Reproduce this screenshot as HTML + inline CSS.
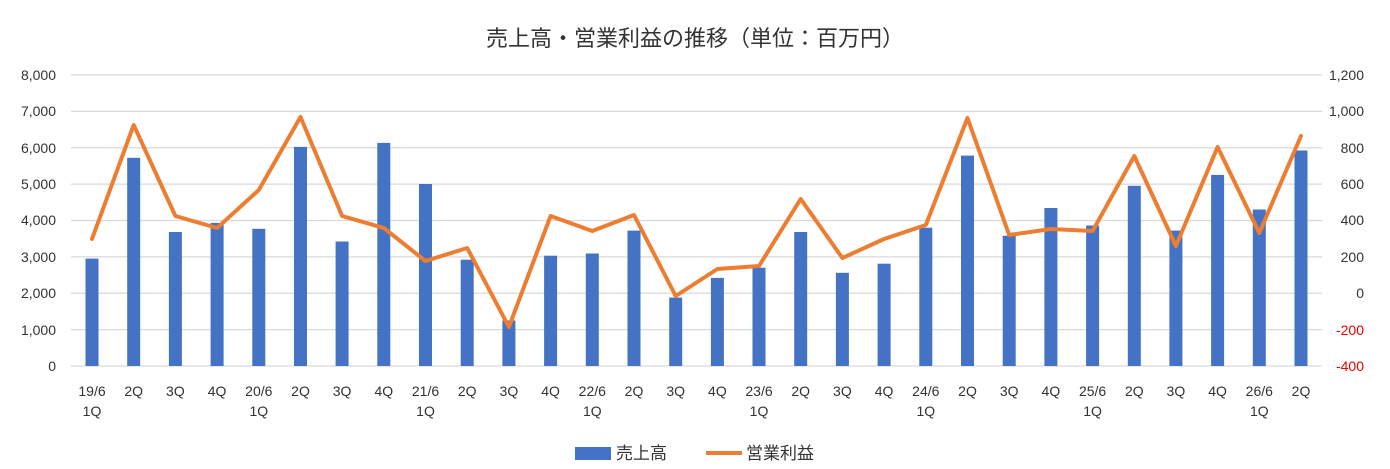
<!DOCTYPE html>
<html><head><meta charset="utf-8"><style>
body{margin:0;background:#fff}
svg{display:block;font-family:"Liberation Sans","Noto Sans CJK JP",sans-serif}
</style></head><body>
<svg width="1390" height="469" viewBox="0 0 1390 469" xmlns="http://www.w3.org/2000/svg">
<rect width="1390" height="469" fill="#fff"/>
<text x="695" y="46" text-anchor="middle" font-size="22" fill="#333">売上高・営業利益の推移（単位：百万円）</text>
<g stroke="#d9d9d9" stroke-width="1.3">
<line x1="71" x2="1322" y1="75" y2="75"/><line x1="71" x2="1322" y1="111.4" y2="111.4"/>
<line x1="71" x2="1322" y1="147.75" y2="147.75"/><line x1="71" x2="1322" y1="184.1" y2="184.1"/>
<line x1="71" x2="1322" y1="220.5" y2="220.5"/><line x1="71" x2="1322" y1="256.9" y2="256.9"/>
<line x1="71" x2="1322" y1="293.25" y2="293.25"/><line x1="71" x2="1322" y1="329.6" y2="329.6"/>
<line x1="71" x2="1322" y1="366" y2="366"/>
</g>
<g font-size="14" fill="#333" text-anchor="end">
<text x="56" y="80">8,000</text><text x="56" y="116">7,000</text><text x="56" y="153">6,000</text>
<text x="56" y="189">5,000</text><text x="56" y="225">4,000</text><text x="56" y="262">3,000</text>
<text x="56" y="298">2,000</text><text x="56" y="335">1,000</text><text x="56" y="371">0</text>
</g>
<g font-size="14" fill="#333" text-anchor="end">
<text x="1364" y="80">1,200</text><text x="1364" y="116">1,000</text><text x="1364" y="153">800</text>
<text x="1364" y="189">600</text><text x="1364" y="225">400</text><text x="1364" y="262">200</text>
<text x="1364" y="298">0</text><text x="1364" y="335" fill="#e00">-200</text><text x="1364" y="371" fill="#e00">-400</text>
</g>
<g fill="#4472c4">
<rect x="85.5" y="258.6" width="13" height="107.4"/>
<rect x="127.2" y="157.8" width="13" height="208.2"/>
<rect x="168.9" y="232" width="13" height="134"/>
<rect x="210.6" y="222.9" width="13" height="143.1"/>
<rect x="252.3" y="228.8" width="13" height="137.2"/>
<rect x="294" y="146.9" width="13" height="219.1"/>
<rect x="335.6" y="241.5" width="13" height="124.5"/>
<rect x="377.3" y="142.9" width="13" height="223.1"/>
<rect x="419" y="184" width="13" height="182"/>
<rect x="460.7" y="259.7" width="13" height="106.3"/>
<rect x="502.4" y="320.5" width="13" height="45.5"/>
<rect x="544.1" y="255.7" width="13" height="110.3"/>
<rect x="585.8" y="253.5" width="13" height="112.5"/>
<rect x="627.5" y="230.6" width="13" height="135.4"/>
<rect x="669.2" y="297.6" width="13" height="68.4"/>
<rect x="710.9" y="277.9" width="13" height="88.1"/>
<rect x="752.5" y="267.7" width="13" height="98.3"/>
<rect x="794.2" y="232" width="13" height="134"/>
<rect x="835.9" y="272.8" width="13" height="93.2"/>
<rect x="877.6" y="263.7" width="13" height="102.3"/>
<rect x="919.3" y="227.7" width="13" height="138.3"/>
<rect x="961" y="155.6" width="13" height="210.4"/>
<rect x="1002.7" y="235.7" width="13" height="130.3"/>
<rect x="1044.4" y="208" width="13" height="158"/>
<rect x="1086.1" y="225.5" width="13" height="140.5"/>
<rect x="1127.8" y="185.8" width="13" height="180.2"/>
<rect x="1169.4" y="230.6" width="13" height="135.4"/>
<rect x="1211.1" y="174.9" width="13" height="191.1"/>
<rect x="1252.8" y="209.5" width="13" height="156.5"/>
<rect x="1294.5" y="150.5" width="13" height="215.5"/>
</g>
<polyline fill="none" stroke="#ed7d31" stroke-width="4" stroke-linejoin="round" stroke-linecap="round" points="92,239 133.7,125 175.4,216 217.1,228 258.8,190 300.5,117 342.1,216 383.8,228 425.5,261 467.2,248 508.9,327 550.6,216 592.3,231 634,215 675.7,296 717.4,269 759,266 800.7,199 842.4,258 884.1,239 925.8,225 967.5,118 1009.2,235 1050.9,229 1092.6,231 1134.3,156 1175.9,246 1217.6,147 1259.3,233 1301,136"/>
<g font-size="14" fill="#333" text-anchor="middle">
<text x="92" y="396">19/6</text><text x="92" y="416">1Q</text>
<text x="133.7" y="396">2Q</text><text x="175.4" y="396">3Q</text><text x="217.1" y="396">4Q</text>
<text x="258.8" y="396">20/6</text><text x="258.8" y="416">1Q</text>
<text x="300.5" y="396">2Q</text><text x="342.1" y="396">3Q</text><text x="383.8" y="396">4Q</text>
<text x="425.5" y="396">21/6</text><text x="425.5" y="416">1Q</text>
<text x="467.2" y="396">2Q</text><text x="508.9" y="396">3Q</text><text x="550.6" y="396">4Q</text>
<text x="592.3" y="396">22/6</text><text x="592.3" y="416">1Q</text>
<text x="634" y="396">2Q</text><text x="675.7" y="396">3Q</text><text x="717.4" y="396">4Q</text>
<text x="759" y="396">23/6</text><text x="759" y="416">1Q</text>
<text x="800.7" y="396">2Q</text><text x="842.4" y="396">3Q</text><text x="884.1" y="396">4Q</text>
<text x="925.8" y="396">24/6</text><text x="925.8" y="416">1Q</text>
<text x="967.5" y="396">2Q</text><text x="1009.2" y="396">3Q</text><text x="1050.9" y="396">4Q</text>
<text x="1092.6" y="396">25/6</text><text x="1092.6" y="416">1Q</text>
<text x="1134.3" y="396">2Q</text><text x="1175.9" y="396">3Q</text><text x="1217.6" y="396">4Q</text>
<text x="1259.3" y="396">26/6</text><text x="1259.3" y="416">1Q</text>
<text x="1301" y="396">2Q</text>
</g>
<rect x="575" y="447" width="36" height="13" fill="#4472c4"/>
<text x="616" y="459" font-size="17" fill="#333">売上高</text>
<line x1="706" x2="742" y1="453" y2="453" stroke="#ed7d31" stroke-width="4"/>
<text x="746" y="459" font-size="17" fill="#333">営業利益</text>
</svg>
</body></html>
